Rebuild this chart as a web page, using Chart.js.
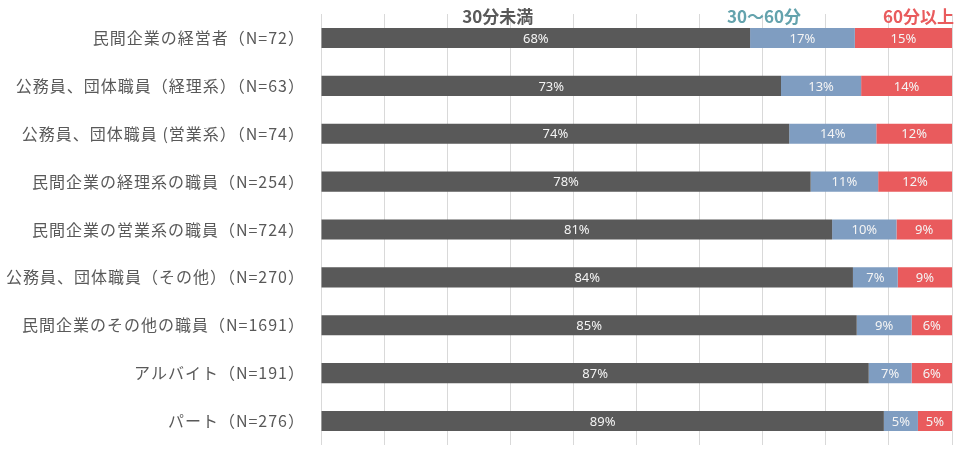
<!DOCTYPE html>
<html>
<head>
<meta charset="utf-8">
<script src="https://cdn.jsdelivr.net/npm/chart.js@4.4.1/dist/chart.umd.min.js"></script>
<style>
    body { margin: 0; background: #fff; }
    #wrap { width: 966px; height: 459px; }
</style>
</head>
<body>
<div id="wrap"><canvas id="bar-time" width="966" height="459"></canvas></div>
<script>
const categories = [
    '民間企業の経営者（N=72）',
    '公務員、団体職員（経理系）（N=63）',
    '公務員、団体職員 (営業系）（N=74）',
    '民間企業の経理系の職員（N=254）',
    '民間企業の営業系の職員（N=724）',
    '公務員、団体職員（その他）（N=270）',
    '民間企業のその他の職員（N=1691）',
    'アルバイト（N=191）',
    'パート（N=276）'
];
const seriesNames = ['30分未満', '30〜60分', '60分以上'];
const under30 = [68.0, 72.9, 74.2, 77.6, 81.0, 84.3, 84.9, 86.8, 89.2];
const from30to60 = [16.6, 12.7, 13.8, 10.7, 10.2, 7.1, 8.7, 6.8, 5.4];
const over60 = [15.4, 14.4, 12.0, 11.7, 8.8, 8.6, 6.4, 6.4, 5.4];

const barColors = ['#595959', '#7f9dc1', '#e95b5d'];
const headColors = ['#595959', '#64a3ad', '#e95b5d'];
// where each heading sits on the 0-100 axis
const headPos = [28.0, 70.2, 94.7];

// wider spacing for the category labels only
const spacing = {
    id: 'spacing',
    beforeDraw(chart) { chart.ctx.letterSpacing = '1px'; },
    beforeDatasetsDraw(chart) { chart.ctx.letterSpacing = '0px'; }
};

const valueLabels = {
    id: 'valueLabels',
    afterDatasetsDraw(chart) {
        const ctx = chart.ctx;
        ctx.save();
        ctx.font = '13px "Noto Sans", sans-serif';
        ctx.fillStyle = '#f4f4f4';
        ctx.textAlign = 'center';
        ctx.textBaseline = 'middle';
        chart.data.datasets.forEach((ds, i) => {
            const meta = chart.getDatasetMeta(i);
            meta.data.forEach((bar, j) => {
                const p = bar.getProps(['x', 'base', 'y'], true);
                ctx.fillText(Math.round(ds.data[j]) + '%', (p.x + p.base) / 2, p.y + 1);
            });
        });
        ctx.restore();
    }
};

const headings = {
    id: 'headings',
    afterDraw(chart) {
        const ctx = chart.ctx;
        const x = chart.scales.x;
        ctx.save();
        ctx.font = 'bold 17px "Noto Sans CJK JP", sans-serif';
        ctx.textAlign = 'center';
        ctx.textBaseline = 'middle';
        for (let i = 0; i < seriesNames.length; i++) {
            ctx.fillStyle = headColors[i];
            ctx.fillText(seriesNames[i], x.getPixelForValue(headPos[i]), 17);
        }
        ctx.restore();
    }
};

function timeChart() {
    const data = {
        labels: categories,
        datasets: [under30, from30to60, over60].map((vals, i) => ({
            label: seriesNames[i],
            data: vals,
            backgroundColor: barColors[i],
            barPercentage: 0.42,
            categoryPercentage: 1
        }))
    };
    const config = {
        type: 'bar',
        data: data,
        options: {
            indexAxis: 'y',
            responsive: false,
            animation: false,
            layout: { padding: { top: 14, right: 14, bottom: 14, left: 0 } },
            plugins: {
                legend: { display: false },
                tooltip: { enabled: false }
            },
            scales: {
                x: {
                    stacked: true,
                    min: 0,
                    max: 100,
                    ticks: { display: false, stepSize: 10 },
                    grid: { color: '#d9d9d9', drawTicks: false },
                    border: { display: false }
                },
                y: {
                    stacked: true,
                    grid: { display: false, drawTicks: false },
                    border: { display: false },
                    ticks: {
                        padding: 16,
                        color: '#595959',
                        font: { family: '"Noto Sans CJK JP", sans-serif', size: 16 }
                    },
                    afterFit(scale) {
                        scale.width = 321;
                        scale.paddingTop = 0;
                        scale.paddingBottom = 0;
                    }
                }
            }
        },
        plugins: [spacing, valueLabels, headings]
    };

    let ctx = document.getElementById('bar-time').getContext('2d');
    new Chart(ctx, config);
}

timeChart();
</script>
</body>
</html>
